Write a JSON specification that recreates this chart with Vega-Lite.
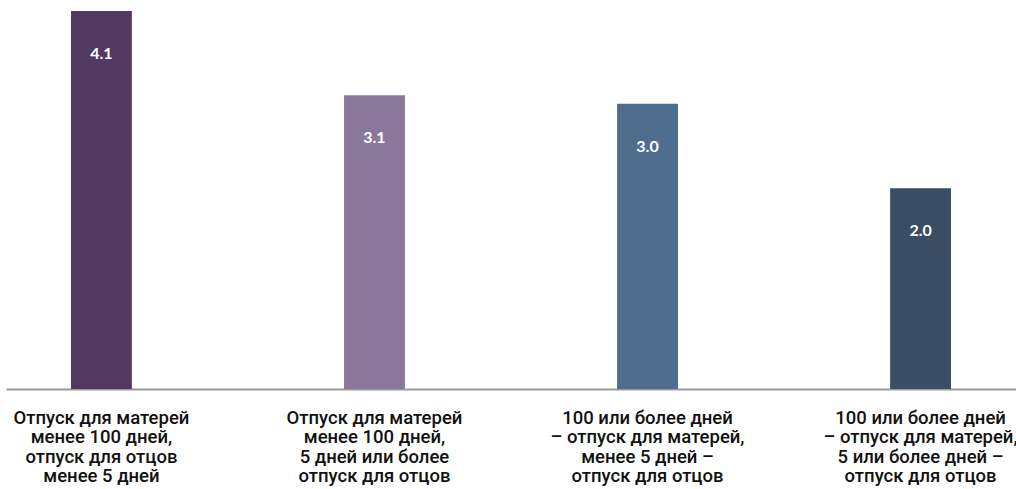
{
  "$schema": "https://vega.github.io/schema/vega-lite/v6.json",
  "autosize": {"type": "none"},
  "padding": {"left": 6, "top": 0, "right": 0, "bottom": 100},
  "width": 1010,
  "height": 389,
  "background": "white",
  "config": {"view": {"stroke": null}},
  "data": {
    "values": [
      {"cat": "Отпуск для матерей|менее 100 дней,|отпуск для отцов|менее 5 дней", "value": 4.1, "label": "4.1", "color": "#513962"},
      {"cat": "Отпуск для матерей|менее 100 дней,|5 дней или более|отпуск для отцов", "value": 3.1, "label": "3.1", "color": "#8a789b"},
      {"cat": "100 или более дней|– отпуск для матерей,|менее 5 дней –|отпуск для отцов", "value": 3.0, "label": "3.0", "color": "#4e6d8d"},
      {"cat": "100 или более дней|– отпуск для матерей,|5 или более дней –|отпуск для отцов", "value": 2.0, "label": "2.0", "color": "#394d63"}
    ]
  },
  "encoding": {
    "x": {
      "field": "cat",
      "type": "nominal",
      "sort": null,
      "title": null,
      "scale": {"paddingInner": 0.777, "paddingOuter": 0.238},
      "axis": {
        "labelAngle": 0,
        "labelExpr": "split(datum.label, '|')",
        "labelFont": "Roboto",
        "labelFontSize": 18.5,
        "labelFontWeight": 500,
        "labelColor": "#111111",
        "labelLineHeight": 19.5,
        "labelPadding": 19,
        "labelBaseline": "top",
        "labelLimit": 0,
        "labelOverlap": false,
        "ticks": false,
        "domainColor": "#9a9a9a",
        "domainWidth": 2
      }
    }
  },
  "layer": [
    {
      "mark": {"type": "bar"},
      "encoding": {
        "y": {"field": "value", "type": "quantitative", "scale": {"domain": [-0.38, 4.23], "nice": false, "zero": false}, "axis": null},
        "y2": {"datum": -0.38},
        "color": {"field": "color", "type": "nominal", "scale": null, "legend": null}
      }
    },
    {
      "mark": {"type": "text", "color": "white", "font": "Lato", "fontWeight": "bold", "fontSize": 16, "baseline": "middle", "dy": 43},
      "encoding": {
        "y": {"field": "value", "type": "quantitative"},
        "text": {"field": "label"}
      }
    }
  ]
}
